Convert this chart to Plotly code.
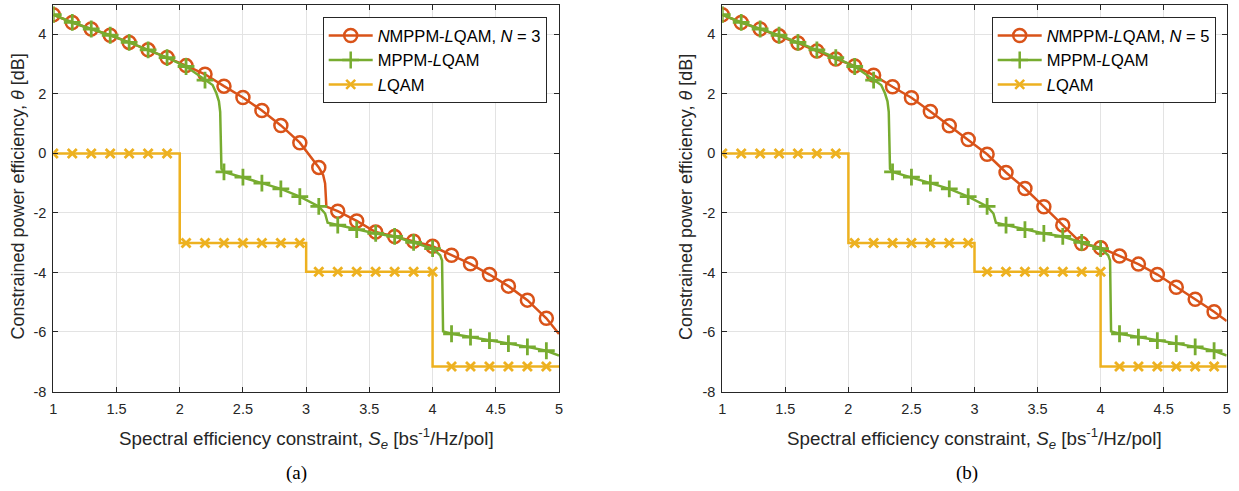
import plotly.graph_objects as go

# ---------------- data ----------------
x_mk = [1.00, 1.15, 1.30, 1.45, 1.60, 1.75, 1.90, 2.05, 2.20, 2.35, 2.50, 2.65, 2.80, 2.95,
        3.10, 3.25, 3.40, 3.55, 3.70, 3.85, 4.00, 4.15, 4.30, 4.45, 4.60, 4.75, 4.90]

# NMPPM-LQAM, N = 3  (panel a)
nmppm3_y = [4.66, 4.40, 4.18, 3.97, 3.73, 3.48, 3.22, 2.95, 2.66, 2.26, 1.88, 1.44, 0.94, 0.36,
            -0.47, -1.94, -2.27, -2.64, -2.79, -2.95, -3.12, -3.42, -3.71, -4.07, -4.46, -4.93, -5.54]
nmppm3_extra_x = [3.135, 3.15, 3.16, 5.00]
nmppm3_extra_y = [-0.73, -1.01, -1.79, -6.07]

# NMPPM-LQAM, N = 5  (panel b)
nmppm5_y = [4.66, 4.40, 4.18, 3.95, 3.71, 3.44, 3.17, 2.94, 2.63, 2.24, 1.87, 1.41, 0.93, 0.47,
            -0.03, -0.64, -1.18, -1.79, -2.41, -3.03, -3.17, -3.45, -3.72, -4.07, -4.50, -4.90, -5.32]
nmppm5_extra_x = [5.00]
nmppm5_extra_y = [-5.63]

# MPPM-LQAM (both panels)
mppm_y = [4.66, 4.40, 4.18, 3.97, 3.73, 3.48, 3.22, 2.92, 2.46, -0.62, -0.80, -1.00, -1.19, -1.45,
          -1.78, -2.41, -2.56, -2.69, -2.79, -2.99, -3.20, -6.06, -6.17, -6.29, -6.39, -6.50, -6.63]
mppm_extra_x = [2.26, 2.29, 2.31, 2.32, 2.33, 3.15, 3.17, 4.06, 4.075, 4.083, 5.00]
mppm_extra_y = [2.30, 2.02, 1.75, 1.40, -0.52, -2.02, -2.33, -3.42, -3.60, -5.98, -6.79]

# LQAM (both panels)
lqam_y = [0, 0, 0, 0, 0, 0, 0, -3.01, -3.01, -3.01, -3.01, -3.01, -3.01, -3.01,
          -3.98, -3.98, -3.98, -3.98, -3.98, -3.98, -3.98, -7.16, -7.16, -7.16, -7.16, -7.16, -7.16]
lqam_step_x = [1.0, 2.0, 2.0, 3.0, 3.0, 4.0, 4.0, 5.0]
lqam_step_y = [0, 0, -3.01, -3.01, -3.98, -3.98, -7.16, -7.16]

x_ticks = [1, 1.5, 2, 2.5, 3, 3.5, 4, 4.5, 5]
x_ticklabels = ["1", "1.5", "2", "2.5", "3", "3.5", "4", "4.5", "5"]
y_ticks = [-8, -6, -4, -2, 0, 2, 4]
y_ticklabels = ["-8", "-6", "-4", "-2", "0", "2", "4"]

# ---------------- style ----------------
C_OR = "#D95319"
C_GR = "#77AC30"
C_YE = "#EDB120"
AX = "#262626"
GRID = "#e3e3e3"
FONT = "Liberation Sans"
W, H = 1239, 491
LW = 2.5


def px(p):
    return p / W


def py(p):
    return 1 - p / H


def merged(xa, ya, xb, yb):
    pts = sorted(zip(list(xa) + list(xb), list(ya) + list(yb)), key=lambda p: p[0])
    return [p[0] for p in pts], [p[1] for p in pts]


fig = go.Figure()


def add_panel(xaxis, yaxis, legend, n_y, n_ex_x, n_ex_y, nlabel):
    # NMPPM
    lx, ly = merged(x_mk, n_y, n_ex_x, n_ex_y)
    fig.add_trace(go.Scatter(x=lx, y=ly, mode="lines", line=dict(color=C_OR, width=LW),
                             xaxis=xaxis, yaxis=yaxis, showlegend=False, hoverinfo="skip"))
    fig.add_trace(go.Scatter(x=x_mk, y=n_y, mode="markers",
                             marker=dict(symbol="circle-open", size=13, color=C_OR,
                                         line=dict(color=C_OR, width=2.5)),
                             xaxis=xaxis, yaxis=yaxis, showlegend=False))
    # MPPM
    gx, gy = merged(x_mk, mppm_y, mppm_extra_x, mppm_extra_y)
    fig.add_trace(go.Scatter(x=gx, y=gy, mode="lines", line=dict(color=C_GR, width=LW),
                             xaxis=xaxis, yaxis=yaxis, showlegend=False, hoverinfo="skip"))
    fig.add_trace(go.Scatter(x=x_mk, y=mppm_y, mode="markers",
                             marker=dict(symbol="cross-thin-open", size=12, color=C_GR,
                                         line=dict(color=C_GR, width=2.8)),
                             xaxis=xaxis, yaxis=yaxis, showlegend=False))
    # LQAM
    fig.add_trace(go.Scatter(x=lqam_step_x, y=lqam_step_y, mode="lines",
                             line=dict(color=C_YE, width=LW),
                             xaxis=xaxis, yaxis=yaxis, showlegend=False, hoverinfo="skip"))
    fig.add_trace(go.Scatter(x=x_mk, y=lqam_y, mode="markers",
                             marker=dict(symbol="x-thin-open", size=9, color=C_YE,
                                         line=dict(color=C_YE, width=2.8)),
                             xaxis=xaxis, yaxis=yaxis, showlegend=False))
    # legend entries
    names = [nlabel, "MPPM-<i>L</i>QAM", "<i>L</i>QAM"]
    cols = [C_OR, C_GR, C_YE]
    syms = ["circle-open", "cross-thin-open", "x-thin-open"]
    sizes = [13, 12, 9]
    for nm, c, s, sz in zip(names, cols, syms, sizes):
        fig.add_trace(go.Scatter(x=[None], y=[None], mode="lines+markers", name=nm,
                                 line=dict(color=c, width=LW),
                                 marker=dict(symbol=s, size=sz, color=c, line=dict(color=c, width=2.5)),
                                 xaxis=xaxis, yaxis=yaxis, legend=legend, showlegend=True))


add_panel("x", "y", "legend", nmppm3_y, nmppm3_extra_x, nmppm3_extra_y,
          "<i>N</i>MPPM-<i>L</i>QAM, <i>N</i> = 3")
add_panel("x2", "y2", "legend2", nmppm5_y, nmppm5_extra_x, nmppm5_extra_y,
          "<i>N</i>MPPM-<i>L</i>QAM, <i>N</i> = 5")

y_dom = [py(391.5), py(4.6)]
xl = [px(53.3), px(559.0)]
xr = [px(722.3), px(1226.7)]

axis_common = dict(showline=True, linecolor=AX, linewidth=1, mirror="ticks",
                   ticks="inside", ticklen=5, tickcolor=AX, tickwidth=1,
                   showgrid=True, gridcolor=GRID, gridwidth=1, zeroline=False,
                   automargin=False,
                   tickfont=dict(family=FONT, size=14.5, color=AX))

xa = dict(axis_common, range=[1, 5], tickmode="array", tickvals=x_ticks, ticktext=x_ticklabels,
          ticklabelstandoff=4)
ya = dict(axis_common, range=[-8, 5], tickmode="array", tickvals=y_ticks, ticktext=y_ticklabels,
          ticklabelstandoff=3)

legend_common = dict(font=dict(family=FONT, size=16.5, color="#000000"),
                     bgcolor="white", bordercolor=AX, borderwidth=1,
                     xanchor="right", yanchor="top", y=py(17.3),
                     tracegroupgap=0, itemwidth=44)

xtitle = "Spectral efficiency constraint, <i>S</i><sub><i>e</i></sub> [bs<sup>-1</sup>/Hz/pol]"
ytitle = "Constrained power efficiency, <i>θ</i> [dB]"

annotations = []
for xd, cap, ytx, capx in [(xl, "(a)", 17.5, 296.0), (xr, "(b)", 686.0, 967.0)]:
    cx = (xd[0] + xd[1]) / 2
    annotations.append(dict(text=xtitle, x=cx, y=py(438), xref="paper", yref="paper",
                            xanchor="center", yanchor="middle", showarrow=False,
                            font=dict(family=FONT, size=18.8, color=AX)))
    annotations.append(dict(text=ytitle, x=px(ytx), y=py(197), xref="paper", yref="paper",
                            xanchor="center", yanchor="middle", showarrow=False, textangle=-90,
                            font=dict(family=FONT, size=18, color=AX)))
    annotations.append(dict(text=cap, x=px(capx), y=py(473), xref="paper", yref="paper",
                            xanchor="center", yanchor="middle", showarrow=False,
                            font=dict(family="Liberation Serif", size=19, color="#000000")))

fig.update_layout(
    width=W, height=H, margin=dict(l=0, r=0, t=0, b=0, autoexpand=False),
    paper_bgcolor="white", plot_bgcolor="white",
    xaxis=dict(xa, domain=xl, anchor="y"),
    yaxis=dict(ya, domain=y_dom, anchor="x"),
    xaxis2=dict(xa, domain=xr, anchor="y2"),
    yaxis2=dict(ya, domain=y_dom, anchor="x2"),
    legend=dict(legend_common, x=px(546.7)),
    legend2=dict(legend_common, x=px(1215.7)),
    annotations=annotations,
    showlegend=True,
)

fig.write_html("out.html", config={"displayModeBar": False},
               post_script="document.body.style.margin='0';document.body.style.padding='0';")
